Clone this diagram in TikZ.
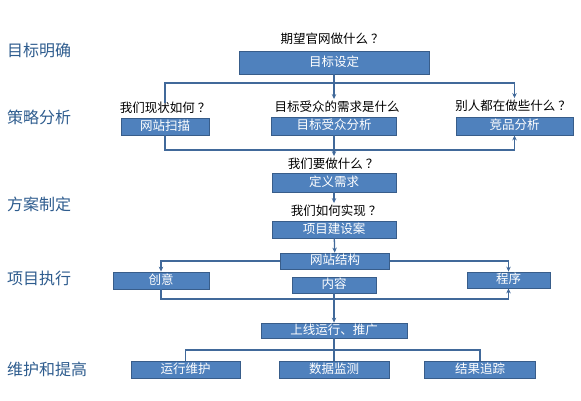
\documentclass[tikz,border=0pt]{standalone}
\usepackage{fontspec}
\setmainfont{Noto Sans CJK SC}
\usetikzlibrary{arrows.meta}
\definecolor{boxblue}{HTML}{4F81BD}
\definecolor{boxedge}{HTML}{385D8A}
\definecolor{linkblue}{HTML}{41699A}
\definecolor{stageblue}{HTML}{2E5C8E}
\newcommand{\qm}{\kern3pt？}
\begin{document}
\begin{tikzpicture}[x=1pt,y=-1pt,
  box/.style={draw=boxedge,line width=0.8pt,fill=boxblue,text=white,font=\fontsize{12.5}{14}\selectfont,inner sep=0pt,minimum height=17pt,text height=9.5pt,text depth=2pt},
  ask/.style={font=\fontsize{12.5}{14}\selectfont,inner sep=0pt,text height=9.5pt,text depth=2pt},
  stage/.style={anchor=west,text=stageblue,font=\fontsize{16}{18}\selectfont,inner sep=0pt},
  link/.style={draw=linkblue,line width=1.3pt},
  arr/.style={link,-{Stealth[length=5pt,width=4.5pt]}}]

    \useasboundingbox (0,0) rectangle (581,400);

    % stages
    \node[stage] (s1) at (7,50) {目标明确};
    \node[stage] (s2) at (7,117) {策略分析};
    \node[stage] (s3) at (7,204) {方案制定};
    \node[stage] (s4) at (7,278) {项目执行};
    \node[stage] (s5) at (7,369) {维护和提高};

    % boxes and questions
    \node[ask] (goalq) at (332,40) {期望官网做什么\qm};
    \node[box,minimum width=190pt,minimum height=23pt] (goal) at (334,62.5) {目标设定};
    \node[ask] (scanq) at (165,109) {我们现状如何\qm};
    \node[box,minimum width=88pt] (scan) at (165,126.5) {网站扫描};
    \node[ask] (audq) at (337,108) {目标受众的需求是什么};
    \node[box,minimum width=125pt,minimum height=18pt] (aud) at (334,126) {目标受众分析};
    \node[ask] (compq) at (513,107) {别人都在做些什么\qm};
    \node[box,minimum width=117pt,minimum height=18pt] (comp) at (514.5,126) {竞品分析};
    \node[ask] (defq) at (333,165) {我们要做什么\qm};
    \node[box,minimum width=124pt,minimum height=19pt] (def) at (334,182.5) {定义需求};
    \node[ask] (planq) at (336,212) {我们如何实现\qm};
    \node[box,minimum width=124pt] (plan) at (334,229.5) {项目建设案};
    \node[box,minimum width=109pt,minimum height=16pt] (struct) at (335,261) {网站结构};
    \node[box,minimum width=96pt] (idea) at (161,280.5) {创意};
    \node[box,minimum width=84pt,minimum height=16pt] (content) at (334,285) {内容};
    \node[box,minimum width=83pt,minimum height=16pt] (prog) at (508.5,280) {程序};
    \node[box,minimum width=146pt,minimum height=15pt] (launch) at (334,330.5) {上线运行、推广};
    \node[box,minimum width=109pt] (ops) at (185.5,369.5) {运行维护};
    \node[box,minimum width=110pt] (data) at (334,369.5) {数据监测};
    \node[box,minimum width=111pt] (track) at (480,369.5) {结果追踪};

    % links
    \coordinate (t1) at (334,83);
    \draw[link] (goal) -- (t1);
    \draw[link] (scanq.north -| scan) |- (t1);
    \draw[arr,shorten >=3pt] (t1) -| (compq.north -| comp);
    \draw[arr,shorten >=3pt] (t1) -- (audq.north -| t1);

    \coordinate (t2) at (334,150);
    \draw[arr] (scan) |- (comp |- t2) -- (comp);
    \draw[arr,shorten >=3pt] (aud) -- (defq.north -| aud);
    \draw[arr,shorten >=3pt] (def) -- (planq.north -| def);
    \draw[arr] (plan) -- (struct);
    \draw[arr] (struct) -| (idea);
    \draw[arr] (struct) -| (prog);

    \coordinate (t3) at (334,299);
    \draw[arr] (idea) |- (prog |- t3) -- (prog);
    \draw[arr] (content) -- (launch);

    \coordinate (t4) at (334,350);
    \draw[link] (launch) -- (data);
    \draw[link] (ops) |- (track |- t4) -- (track);

\end{tikzpicture}
\end{document}
